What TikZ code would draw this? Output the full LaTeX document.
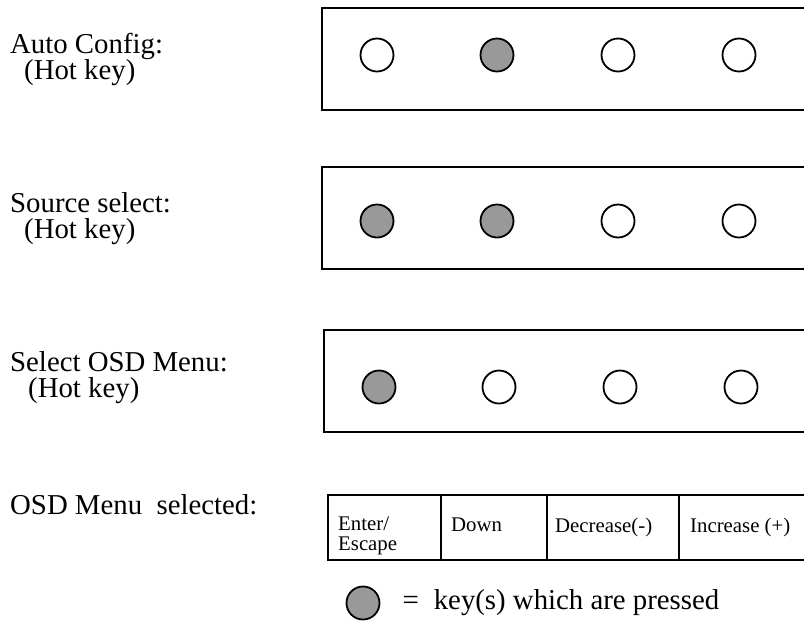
\documentclass[tikz,border=0pt]{standalone}
\usepackage{fontspec}
\setmainfont{Liberation Serif}
\usetikzlibrary{positioning}
\definecolor{keygray}{RGB}{153,153,153}

\begin{document}
\begin{tikzpicture}[
    x=1pt, y=-1pt,
    panel/.style={rectangle, draw, line width=2pt, minimum width=520pt,
                  minimum height=102pt, anchor=north west, inner sep=0pt, outer sep=0pt},
    key/.style={circle, draw, line width=1.8pt, minimum size=33pt, inner sep=0pt},
    pressed/.style={key, fill=keygray},
    caption/.style={font=\fontsize{28.8}{32}\selectfont, anchor=base west, inner sep=0pt},
    cell/.style={rectangle, draw, line width=2pt, minimum height=65pt,
                 anchor=north west, inner sep=0pt, outer sep=0pt},
    celltext/.style={font=\fontsize{20.8}{20}\selectfont, align=left,
                     anchor=north west, inner sep=0pt}
  ]
    \useasboundingbox (0,0) rectangle (804,633);

    % hot key panels
    \node[panel] (autopanel)   at (322,8)   {};
    \node[panel] (sourcepanel) at (322,167) {};
    \node[panel] (menupanel)   at (324,330) {};

    \node[caption] (autoname) at (10,53) {Auto Config:};
    \node[caption] (autohot)  at (24,79) {(Hot key)};
    \node[caption] (sourcename) at (10,212) {Source select:};
    \node[caption] (sourcehot)  at (24,238) {(Hot key)};
    \node[caption] (menuname) at (10,371) {Select OSD Menu:};
    \node[caption] (menuhot)  at (28,397) {(Hot key)};

    \node[key]     (auto1) at (377,55) {};
    \node[pressed] (auto2) at (497,55) {};
    \node[key]     (auto3) at (618,55) {};
    \node[key]     (auto4) at (739,55) {};

    \node[pressed] (source1) at (377,221) {};
    \node[pressed] (source2) at (497,221) {};
    \node[key]     (source3) at (618,221) {};
    \node[key]     (source4) at (739,221) {};

    \node[pressed] (menu1) at (379,387) {};
    \node[key]     (menu2) at (499,387) {};
    \node[key]     (menu3) at (620,387) {};
    \node[key]     (menu4) at (741,387) {};

    % key functions in the OSD menu
    \node[caption] (osdname) at (10,514) {OSD Menu~ selected:};
    \node[cell, minimum width=113pt] (enter) at (328,495) {};
    \node[cell, minimum width=106pt, right=0pt of enter] (down) {};
    \node[cell, minimum width=132pt, right=0pt of down] (decrease) {};
    \node[cell, minimum width=200pt, right=0pt of decrease] (increase) {};
    \node[celltext] (entertext) at ([xshift=10pt, yshift=-22pt]enter.north west) {Enter/\\Escape};
    \node[celltext] (downtext) at ([xshift=10pt, yshift=-23pt]down.north west) {Down};
    \node[celltext] (decreasetext) at ([xshift=8pt, yshift=-23pt]decrease.north west) {Decrease(-)};
    \node[celltext] (increasetext) at ([xshift=11pt, yshift=-23pt]increase.north west) {Increase (+)};

    % legend
    \node[pressed] (legendkey) at (363,603) {};
    \node[caption, anchor=west, right=22pt of legendkey] (legendtext) {=\hspace{15pt}key(s) which are pressed};
  \end{tikzpicture}
\end{document}
